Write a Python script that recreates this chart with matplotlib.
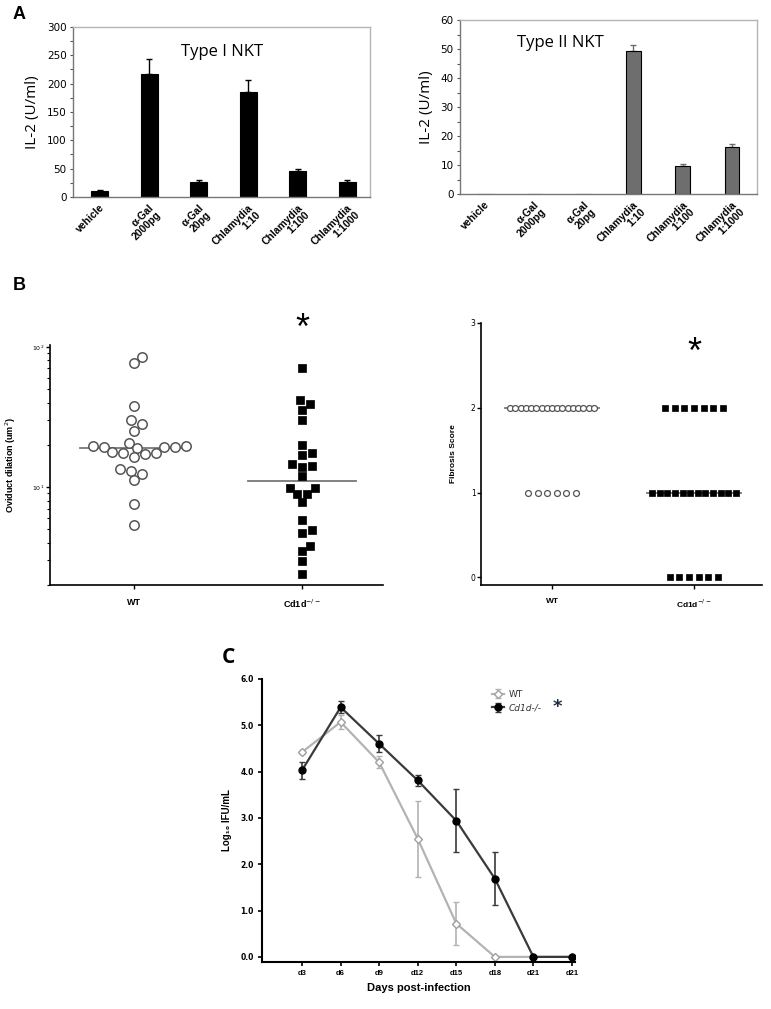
import numpy as np
import matplotlib
matplotlib.use('Agg')
import matplotlib.pyplot as plt
from matplotlib.ticker import AutoMinorLocator, MultipleLocator, FormatStrFormatter

# ------------------------------------------------------------------------
# Data

# A: IL-2 release by NKT hybridomas
stimuli = ['vehicle', 'α-Gal\n2000pg', 'α-Gal\n20pg', 'Chlamydia\n1:10',
           'Chlamydia\n1:100', 'Chlamydia\n1:1000']
il2_type1 = [10, 217, 27, 186, 46, 27]
il2_type1_err = [2, 27, 3, 20, 3, 3]
il2_type2 = [0, 0, 0, 49.3, 9.7, 16.2]
il2_type2_err = [0, 0, 0, 2.0, 0.8, 1.0]

# B: oviduct dilation and fibrosis
groups = ['WT', 'Cd1d$^{-/-}$']
dilation_wt = [84, 76, 38, 30, 28, 25, 20.5, 19.6, 19.5, 19.4, 19.3, 19.2,
               19.0, 17.7, 17.6, 17.4, 17.3, 16.3, 13.4, 13.0, 12.3, 11.2, 7.6, 5.4]
dilation_ko = [70, 42, 39, 35.5, 30, 20, 17.6, 17.0, 14.5, 14.2, 14.0, 12.0,
               9.9, 9.9, 8.9, 8.9, 7.85, 5.8, 4.9, 4.7, 3.8, 3.5, 2.96, 2.4]
fib_scores = [0, 1, 2]
fib_wt_counts = [0, 6, 17]
fib_ko_counts = [6, 12, 7]

# C: chlamydia shedding
days = ['d3', 'd6', 'd9', 'd12', 'd15', 'd18', 'd21', 'd21']
wt_ifu = [4.42, 5.07, 4.20, 2.55, 0.72, 0.0, 0.0, 0.0]
wt_err = [0.05, 0.16, 0.13, 0.82, 0.46, 0.0, 0.0, 0.0]
ko_ifu = [4.03, 5.39, 4.60, 3.81, 2.94, 1.69, 0.0, 0.0]
ko_err = [0.18, 0.13, 0.18, 0.12, 0.68, 0.57, 0.0, 0.0]

# ------------------------------------------------------------------------
# Helpers

NARROW = ['Liberation Sans Narrow', 'DejaVu Sans']
ARIAL = ['Liberation Sans', 'DejaVu Sans']
CAL = ['Open Sans', 'DejaVu Sans']


def swarm_offsets(ax, vals, diam_px, step=0.25, tight=0.85):
    ys = ax.transData.transform(np.column_stack([np.zeros(len(vals)), vals]))[:, 1]
    xs = np.zeros(len(vals))
    cands = [0.0]
    for k in range(1, 80):
        cands += [k * step * diam_px, -k * step * diam_px]
    placed = []
    for i in np.argsort(ys):
        for x in cands:
            if all((x - px) ** 2 + (ys[i] - py) ** 2 >= (tight * diam_px) ** 2
                   for px, py in placed):
                break
        placed.append((x, ys[i]))
        xs[i] = x
    px_per_unit = ax.bbox.width / np.diff(ax.get_xlim())[0]
    return xs / px_per_unit


def bar_panel(ax, vals, errs, color, ymax, ystep, title, tx, ty, width):
    x = np.arange(len(stimuli))
    ax.bar(x, vals, width=width, color=color, edgecolor='black', linewidth=0.8, zorder=2)
    m = np.array(vals) > 0
    ax.errorbar(x[m], np.array(vals)[m],
                yerr=[np.zeros(m.sum()), np.array(errs)[m]],
                fmt='none', ecolor=color, elinewidth=1.0, capsize=2, capthick=1.0, zorder=1)
    ax.set_ylim(0, ymax)
    ax.yaxis.set_major_locator(MultipleLocator(ystep))
    ax.yaxis.set_minor_locator(AutoMinorLocator(2))
    ax.set_xticks(x)
    ax.set_xticklabels(stimuli, rotation=45, ha='right', va='top',
                       rotation_mode='anchor', fontsize=7.5, fontweight='bold',
                       family=ARIAL, linespacing=1.0)
    ax.tick_params(axis='x', length=0, pad=4)
    ax.tick_params(axis='y', which='both', direction='out', length=2.5, width=0.8,
                   color='#555555', labelsize=7.5, pad=2)
    for lab in ax.get_yticklabels():
        lab.set_family(NARROW)
    for s in ax.spines.values():
        s.set_color('#b5b5b5')
        s.set_linewidth(1.0)
    ax.spines['left'].set_color('#777777')
    ax.spines['bottom'].set_color('#777777')
    ax.set_ylabel('IL-2 (U/ml)', fontsize=11, family=CAL, labelpad=5)
    ax.text(tx, ty, title, transform=ax.transAxes, ha='center', va='center',
            fontsize=12, family=CAL)


def clean_axes(ax, lw=1.2):
    ax.spines['top'].set_visible(False)
    ax.spines['right'].set_visible(False)
    ax.spines['left'].set_linewidth(lw)
    ax.spines['bottom'].set_linewidth(lw)


# ------------------------------------------------------------------------
# Figure

fig = plt.figure(figsize=(7.71, 10.09), dpi=100)

# --------
# Panel A

axA1 = fig.add_axes([0.0947, 0.8048, 0.385, 0.1685])
axA1.set_xlim(-0.54, 5.46)
bar_panel(axA1, il2_type1, il2_type1_err, 'black', 300, 50, 'Type I NKT', 0.503, 0.853, 0.34)

axA2 = fig.add_axes([0.5966, 0.8077, 0.385, 0.1724])
axA2.set_xlim(-0.5, 5.5)
bar_panel(axA2, il2_type2, il2_type2_err, '#6e6e6e', 60, 10, 'Type II NKT', 0.337, 0.868, 0.30)

# --------
# Panel B: dilation (log)

axB1 = fig.add_axes([0.0649, 0.4202, 0.4319, 0.2379])
clean_axes(axB1)
axB1.set_yscale('log')
axB1.set_xlim(-0.5, 1.48)
axB1.set_ylim(2.0, 103)
off_wt = swarm_offsets(axB1, dilation_wt, 11.0)
off_ko = swarm_offsets(axB1, dilation_ko, 10.0, tight=0.9)
axB1.scatter(0 + off_wt, dilation_wt, s=46, marker='o', facecolor='white',
             edgecolor='#555555', linewidth=1.1, zorder=3)
axB1.scatter(1 + off_ko, dilation_ko, s=34, marker='s', facecolor='black',
             edgecolor='black', linewidth=0.5, zorder=3)
for i, vals in enumerate([dilation_wt, dilation_ko]):
    axB1.plot([i - 0.32, i + 0.32], [np.median(vals)] * 2, color='#777777', lw=1.3, zorder=2)
axB1.set_xticks([0, 1])
axB1.set_xticklabels(groups, fontsize=6.5, fontweight='bold', family=ARIAL)
axB1.tick_params(axis='x', length=3, width=1, pad=6)
axB1.tick_params(axis='y', which='major', length=3, width=1, labelsize=4.5, pad=1)
axB1.tick_params(axis='y', which='minor', length=2, width=0.8)
axB1.set_ylabel('Oviduct dilation (um$^2$)', fontsize=6.5, fontweight='bold',
                family=ARIAL, labelpad=10)
fig.text(0.392, 0.673, '*', fontsize=26, ha='center', va='center', family=ARIAL)

# --------
# Panel B: fibrosis

axB2 = fig.add_axes([0.6239, 0.4202, 0.3645, 0.2597])
clean_axes(axB2)
axB2.set_xlim(-0.5, 1.48)
axB2.set_ylim(-0.09, 3.0)
for i, counts in enumerate([fib_wt_counts, fib_ko_counts]):
    for score, n in zip(fib_scores, counts):
        if n == 0:
            continue
        gap = min(0.068, 0.59 / max(n - 1, 1))
        xs = i + (np.arange(n) - (n - 1) / 2) * gap
        if i == 0:
            axB2.scatter(xs, [score] * n, s=18, marker='o', facecolor='white',
                         edgecolor='#555555', linewidth=0.9, zorder=3)
        else:
            axB2.scatter(xs, [score] * n, s=22, marker='s', facecolor='black',
                         edgecolor='black', linewidth=0.5, zorder=3)
    med = np.median(np.repeat(fib_scores, counts))
    axB2.plot([i - 0.33, i + 0.33], [med, med], color='#777777', lw=1.3, zorder=2)
axB2.set_yticks([0, 1, 2, 3])
axB2.set_xticks([0, 1])
axB2.set_xticklabels(groups, fontsize=6, fontweight='bold', family=ARIAL)
axB2.tick_params(axis='x', length=3, width=1, pad=6)
axB2.tick_params(axis='y', length=3, width=1, labelsize=5.5, pad=1)
axB2.set_ylabel('Fibrosis Score', fontsize=6, fontweight='bold', family=ARIAL, labelpad=10)
fig.text(0.900, 0.650, '*', fontsize=26, ha='center', va='center', family=ARIAL)

# --------
# Panel C

axC = fig.add_axes([0.3398, 0.0466, 0.406, 0.2805])
clean_axes(axC, lw=1.5)
x = np.arange(len(days))
axC.errorbar(x, wt_ifu, yerr=wt_err, color='#b3b3b3', lw=1.6, marker='D', ms=4.5,
             mfc='white', mec='#a0a0a0', mew=1.0, capsize=2.5, elinewidth=1.2,
             ecolor='#b3b3b3', label='WT', zorder=2)
axC.errorbar(x, ko_ifu, yerr=ko_err, color='#3a3a3a', lw=1.6, marker='o', ms=5,
             mfc='black', mec='black', capsize=2.5, elinewidth=1.2,
             ecolor='#3a3a3a', label='Cd1d-/-', zorder=3)
axC.set_xlim(-1.04, 7.08)
axC.set_ylim(-0.11, 6.0)
axC.set_xticks(x)
axC.set_xticklabels(days, fontsize=6, fontweight='bold', family=ARIAL)
axC.yaxis.set_major_locator(MultipleLocator(1.0))
axC.yaxis.set_major_formatter(FormatStrFormatter('%.1f'))
for lab in axC.get_yticklabels():
    lab.set_fontweight('bold')
axC.tick_params(axis='both', length=3, width=1.2, labelsize=5.5, pad=3)
axC.set_ylabel('Log₁₀ IFU/mL', fontsize=7, fontweight='bold', family=ARIAL, labelpad=6)
axC.set_xlabel('Days post-infection', fontsize=8, fontweight='bold', family=ARIAL, labelpad=4)
leg = axC.legend(loc='upper left', bbox_to_anchor=(0.71, 0.99), frameon=False,
                 fontsize=6.5, handlelength=1.3, handletextpad=0.5, labelspacing=0.5)
for t in leg.get_texts():
    t.set_color('#333333')
leg.get_texts()[1].set_fontstyle('italic')
axC.text(0.943, 0.90, '*', transform=axC.transAxes, fontsize=13, ha='center',
         va='center', color='#1c2b45', fontweight='bold')

# --------
# Panel letters

fig.text(0.025, 0.986, 'A', fontsize=13, fontweight='bold', family=ARIAL, ha='center', va='center')
fig.text(0.025, 0.717, 'B', fontsize=13, fontweight='bold', family=ARIAL, ha='center', va='center')
fig.text(0.296, 0.348, 'C', fontsize=15, fontweight='bold', family=CAL, ha='center', va='center')

fig.savefig('out.png', dpi=100)
